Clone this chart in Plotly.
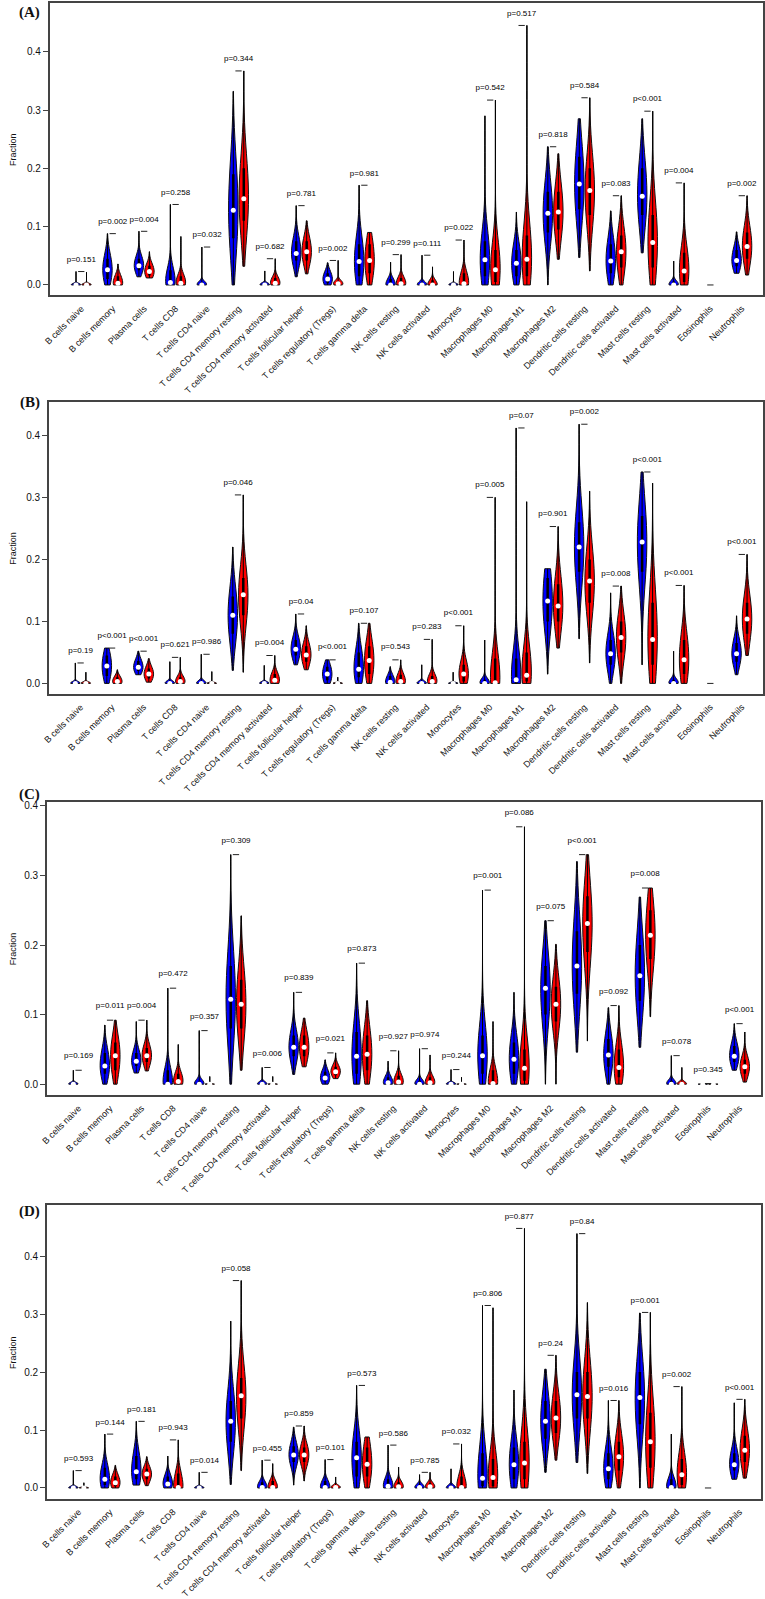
import numpy as np
import plotly.graph_objects as go

cells = ["B cells naive", "B cells memory", "Plasma cells", "T cells CD8", "T cells CD4 naive",
         "T cells CD4 memory resting", "T cells CD4 memory activated", "T cells follicular helper",
         "T cells regulatory (Tregs)", "T cells gamma delta", "NK cells resting", "NK cells activated",
         "Monocytes", "Macrophages M0", "Macrophages M1", "Macrophages M2", "Dendritic cells resting",
         "Dendritic cells activated", "Mast cells resting", "Mast cells activated", "Eosinophils",
         "Neutrophils"]

# each violin: (min, q1, median, q3, max)
A_blue = [(0, 0, 0, 0.002, 0.023), (0, 0.01, 0.026, 0.045, 0.088), (0.014, 0.025, 0.033, 0.045, 0.092),
          (0, 0, 0.004, 0.025, 0.138), (0, 0, 0, 0.004, 0.065), (0, 0.08, 0.128, 0.19, 0.332),
          (0, 0, 0, 0.003, 0.024), (0.014, 0.042, 0.054, 0.075, 0.136), (0, 0.003, 0.01, 0.02, 0.038),
          (0, 0.015, 0.04, 0.07, 0.171), (0, 0, 0, 0.01, 0.039), (0, 0, 0, 0.004, 0.051),
          (0, 0, 0, 0.002, 0.023), (0, 0.015, 0.043, 0.075, 0.29), (0, 0.015, 0.037, 0.06, 0.125),
          (0, 0.09, 0.123, 0.16, 0.237), (0.047, 0.13, 0.173, 0.22, 0.285), (0, 0.02, 0.041, 0.07, 0.127),
          (0.055, 0.12, 0.152, 0.2, 0.285), (0, 0, 0, 0.006, 0.041), (0, 0, 0, 0, 0),
          (0.02, 0.032, 0.042, 0.06, 0.091)]
A_red = [(0, 0, 0, 0.002, 0.022), (0, 0, 0.003, 0.015, 0.036), (0.012, 0.016, 0.023, 0.033, 0.057),
         (0, 0, 0.003, 0.015, 0.083), (0, 0, 0, 0, 0), (0.032, 0.11, 0.148, 0.2, 0.367),
         (0, 0, 0.003, 0.012, 0.045), (0.019, 0.042, 0.057, 0.075, 0.11), (0, 0, 0.002, 0.006, 0.042),
         (0, 0.02, 0.042, 0.07, 0.09), (0, 0, 0.002, 0.012, 0.052), (0, 0, 0, 0.008, 0.031),
         (0, 0, 0.002, 0.02, 0.077), (0, 0.005, 0.026, 0.06, 0.317), (0, 0.015, 0.044, 0.085, 0.445),
         (0.044, 0.095, 0.125, 0.16, 0.225), (0.024, 0.12, 0.162, 0.2, 0.321), (0, 0.03, 0.057, 0.085, 0.153),
         (0, 0.03, 0.073, 0.12, 0.298), (0, 0.005, 0.024, 0.055, 0.175), (0, 0, 0, 0, 0),
         (0.017, 0.045, 0.066, 0.09, 0.153)]
A_p = ["0.151", "0.002", "0.004", "0.258", "0.032", "0.344", "0.682", "0.781", "0.002", "0.981", "0.299",
       "0.111", "0.022", "0.542", "0.517", "0.818", "0.584", "0.083", "<0.001", "0.004", None, "0.002"]

B_blue = [(0, 0, 0, 0.002, 0.033), (0, 0.012, 0.028, 0.045, 0.057), (0.014, 0.02, 0.026, 0.036, 0.052),
          (0, 0, 0, 0.003, 0.035), (0, 0, 0, 0.003, 0.047), (0.021, 0.08, 0.11, 0.14, 0.22),
          (0, 0, 0, 0.002, 0.029), (0.03, 0.045, 0.055, 0.07, 0.112), (0, 0.005, 0.015, 0.027, 0.038),
          (0, 0.01, 0.023, 0.05, 0.097), (0, 0, 0.002, 0.012, 0.027), (0, 0, 0, 0.003, 0.03),
          (0, 0, 0, 0.001, 0.018), (0, 0, 0, 0.006, 0.07), (0, 0, 0.006, 0.04, 0.412),
          (0.015, 0.1, 0.133, 0.17, 0.185), (0.072, 0.18, 0.22, 0.26, 0.418), (0, 0.03, 0.048, 0.07, 0.146),
          (0.03, 0.18, 0.228, 0.27, 0.341), (0, 0, 0, 0.006, 0.052), (0, 0, 0, 0, 0),
          (0.014, 0.035, 0.048, 0.065, 0.109)]
B_red = [(0, 0, 0, 0.002, 0.018), (0, 0, 0.003, 0.01, 0.022), (0.002, 0.008, 0.015, 0.024, 0.04),
         (0, 0, 0.003, 0.01, 0.042), (0, 0, 0, 0.001, 0.019), (0.018, 0.11, 0.143, 0.17, 0.304),
         (0, 0, 0.005, 0.015, 0.045), (0.022, 0.035, 0.046, 0.06, 0.093), (0, 0, 0, 0.001, 0.01),
         (0, 0.015, 0.037, 0.06, 0.097), (0, 0, 0.003, 0.014, 0.038), (0, 0, 0.003, 0.012, 0.071),
         (0, 0.003, 0.015, 0.03, 0.093), (0, 0, 0.001, 0.04, 0.3), (0, 0.003, 0.013, 0.05, 0.293),
         (0.057, 0.1, 0.125, 0.16, 0.253), (0.033, 0.13, 0.165, 0.2, 0.31), (0, 0.05, 0.074, 0.1, 0.157),
         (0, 0.03, 0.071, 0.13, 0.323), (0, 0.015, 0.038, 0.07, 0.158), (0, 0, 0, 0, 0),
         (0.045, 0.08, 0.104, 0.13, 0.208)]
B_p = ["0.19", "<0.001", "<0.001", "0.621", "0.986", "0.046", "0.004", "0.04", "<0.001", "0.107", "0.543",
       "0.283", "<0.001", "0.005", "0.07", "0.901", "0.002", "0.008", "<0.001", "<0.001", None, "<0.001"]

C_blue = [(0, 0, 0, 0.002, 0.02), (0, 0.015, 0.026, 0.045, 0.085), (0.016, 0.026, 0.033, 0.045, 0.09),
          (0, 0, 0, 0.02, 0.138), (0, 0, 0, 0.004, 0.077), (0, 0.08, 0.122, 0.17, 0.33),
          (0, 0, 0, 0.003, 0.024), (0.014, 0.04, 0.053, 0.07, 0.132), (0, 0.004, 0.009, 0.018, 0.035),
          (0, 0.015, 0.04, 0.075, 0.174), (0, 0, 0.002, 0.01, 0.033), (0, 0, 0, 0.005, 0.051),
          (0, 0, 0, 0.002, 0.021), (0, 0.015, 0.041, 0.07, 0.279), (0, 0.015, 0.036, 0.06, 0.132),
          (0, 0.1, 0.138, 0.17, 0.235), (0.046, 0.13, 0.17, 0.22, 0.32), (0, 0.025, 0.042, 0.065, 0.11),
          (0.053, 0.12, 0.156, 0.2, 0.269), (0, 0, 0, 0.005, 0.041), (0, 0, 0, 0, 0.001),
          (0.02, 0.032, 0.04, 0.055, 0.087)]
C_red = [(0, 0, 0, 0, 0), (0, 0.02, 0.041, 0.06, 0.092), (0.019, 0.032, 0.041, 0.052, 0.092),
         (0, 0, 0.004, 0.015, 0.057), (0, 0, 0, 0, 0.011), (0.02, 0.08, 0.115, 0.15, 0.242),
         (0, 0, 0, 0, 0.011), (0.025, 0.04, 0.053, 0.07, 0.095), (0.008, 0.013, 0.018, 0.025, 0.045),
         (0, 0.02, 0.043, 0.07, 0.12), (0, 0, 0.003, 0.012, 0.048), (0, 0, 0.002, 0.01, 0.042),
         (0, 0, 0, 0, 0.01), (0, 0, 0.001, 0.02, 0.09), (0, 0.005, 0.023, 0.05, 0.37),
         (0, 0.09, 0.115, 0.14, 0.201), (0.062, 0.19, 0.231, 0.27, 0.33), (0, 0.01, 0.024, 0.05, 0.113),
         (0.097, 0.18, 0.214, 0.25, 0.282), (0, 0, 0, 0.003, 0.024), (0, 0, 0, 0, 0.001),
         (0.003, 0.015, 0.025, 0.035, 0.075)]
C_p = ["0.169", "0.011", "0.004", "0.472", "0.357", "0.309", "0.006", "0.839", "0.021", "0.873", "0.927",
       "0.974", "0.244", "0.001", "0.086", "0.075", "<0.001", "0.092", "0.008", "0.078", "0.345", "<0.001"]

D_blue = [(0, 0, 0, 0.002, 0.03), (0, 0.005, 0.015, 0.035, 0.093), (0.005, 0.015, 0.028, 0.055, 0.115),
          (0, 0.002, 0.007, 0.02, 0.055), (0, 0, 0, 0.002, 0.027), (0.006, 0.08, 0.115, 0.15, 0.288),
          (0, 0, 0.001, 0.01, 0.048), (0.005, 0.045, 0.057, 0.072, 0.105), (0, 0, 0.001, 0.012, 0.049),
          (0, 0.02, 0.052, 0.08, 0.177), (0, 0, 0.003, 0.015, 0.074), (0, 0, 0.001, 0.006, 0.023),
          (0, 0, 0, 0.004, 0.033), (0, 0.003, 0.017, 0.06, 0.315), (0, 0.015, 0.04, 0.07, 0.169),
          (0.027, 0.085, 0.115, 0.15, 0.205), (0.044, 0.12, 0.161, 0.2, 0.439), (0, 0.015, 0.033, 0.06, 0.151),
          (0, 0.11, 0.156, 0.2, 0.302), (0, 0, 0.001, 0.015, 0.093), (0, 0, 0, 0, 0),
          (0.015, 0.03, 0.04, 0.06, 0.147)]
D_red = [(0, 0, 0, 0.001, 0.009), (0, 0.003, 0.009, 0.02, 0.039), (0.004, 0.015, 0.024, 0.033, 0.054),
         (0, 0, 0.001, 0.025, 0.083), (0, 0, 0, 0, 0), (0.03, 0.12, 0.159, 0.19, 0.358),
         (0, 0, 0.001, 0.012, 0.042), (0.012, 0.045, 0.057, 0.07, 0.107), (0, 0, 0.001, 0.004, 0.019),
         (0, 0.02, 0.041, 0.07, 0.088), (0, 0, 0.002, 0.01, 0.036), (0, 0, 0.002, 0.008, 0.027),
         (0, 0, 0.001, 0.02, 0.076), (0, 0.003, 0.018, 0.05, 0.311), (0, 0.015, 0.043, 0.08, 0.448),
         (0.048, 0.095, 0.121, 0.15, 0.229), (0.025, 0.12, 0.158, 0.2, 0.32), (0, 0.03, 0.054, 0.08, 0.151),
         (0, 0.035, 0.08, 0.13, 0.303), (0, 0.005, 0.023, 0.05, 0.175), (0, 0, 0, 0, 0),
         (0.017, 0.045, 0.065, 0.09, 0.153)]
D_p = ["0.593", "0.144", "0.181", "0.943", "0.014", "0.058", "0.455", "0.859", "0.101", "0.573", "0.586",
       "0.785", "0.032", "0.806", "0.877", "0.24", "0.84", "0.016", "0.001", "0.002", None, "<0.001"]

W, H = 765, 1599
FONT = "Arial, Liberation Sans, sans-serif"

# panel boxes in pixels: left, right, top, bottom, y range, label y
panels = [
    ("(A)", A_blue, A_red, A_p, (44, 764, 1, 295), (-0.0175, 0.4835), 11),
    ("(B)", B_blue, B_red, B_p, (43.3, 764, 402.3, 696), (-0.0165, 0.4542), 403),
    ("(C)", C_blue, C_red, C_p, (41.3, 761.7, 805, 1099.7), (-0.0153, 0.4057), 797),
    ("(D)", D_blue, D_red, D_p, (41.3, 761.7, 1211, 1506), (-0.0183, 0.4877), 1217),
]


def bandwidth(s):
    return 0.45 * (s[3] - s[1]) + 0.04 * (s[4] - s[0]) + 1e-4


fig = go.Figure()
annotations = []

for pi, (tag, blue, red, pvals, box, yr, label_y) in enumerate(panels):
    sfx = "" if pi == 0 else str(pi + 1)
    xa, ya = "x" + sfx, "y" + sfx

    wx, wy, bx, by, mx_, my_ = [], [], [], [], [], []
    for k in range(len(cells)):
        for grp, col, off in ((blue, "#0000ff", 0), (red, "#ff0000", 1)):
            s = grp[k]
            pos = 3 * k + off
            if s[4] <= s[0]:
                continue
            fig.add_trace(go.Violin(
                x=[pos] * 3, y=[s[1], s[2], s[3]],
                xaxis=xa, yaxis=ya,
                width=0.9, scalemode="width",
                spanmode="manual", span=[s[0], s[4]],
                bandwidth=bandwidth(s),
                fillcolor=col, line=dict(color="#111111", width=1),
                points=False, box_visible=False, meanline_visible=False,
                opacity=1, showlegend=False, hoverinfo="skip"))
            wx += [pos, pos, None]
            wy += [s[0], s[4], None]
            bx += [pos, pos, None]
            by += [s[1], s[3], None]
            mx_.append(pos)
            my_.append(s[2])

    fig.add_trace(go.Scatter(x=wx, y=wy, mode="lines", xaxis=xa, yaxis=ya,
                             line=dict(color="black", width=1), showlegend=False, hoverinfo="skip"))
    fig.add_trace(go.Scatter(x=bx, y=by, mode="lines", xaxis=xa, yaxis=ya,
                             line=dict(color="black", width=2.5), showlegend=False, hoverinfo="skip"))
    fig.add_trace(go.Scatter(x=mx_, y=my_, mode="markers", xaxis=xa, yaxis=ya,
                             marker=dict(color="white", size=5, line=dict(width=0)),
                             showlegend=False, hoverinfo="skip"))

    # brackets and p-values
    lx, ly, tx, ty, tt = [], [], [], [], []
    for k in range(len(cells)):
        top = max(blue[k][4], red[k][4])
        lx += [3 * k + 0.2, 3 * k + 0.8, None]
        ly += [top, top, None]
        if pvals[k] is not None:
            tx.append(3 * k + 0.5)
            ty.append(top + 0.02)
            tt.append("p" + pvals[k] if pvals[k].startswith("<") else "p=" + pvals[k])
    fig.add_trace(go.Scatter(x=lx, y=ly, mode="lines", xaxis=xa, yaxis=ya,
                             line=dict(color="#222222", width=1), showlegend=False, hoverinfo="skip"))
    fig.add_trace(go.Scatter(x=tx, y=ty, mode="text", text=tt, xaxis=xa, yaxis=ya,
                             textposition="middle center",
                             textfont=dict(family=FONT, size=8, color="black"),
                             showlegend=False, hoverinfo="skip"))

    l, r, t, b = box
    fig.update_layout(**{
        "xaxis" + sfx: dict(domain=[l / W, r / W], anchor=ya, range=[-2.52, 65.52],
                            tickvals=[3 * k + 0.5 for k in range(len(cells))], ticktext=cells,
                            tickangle=-45, tickfont=dict(family=FONT, size=9, color="#111111"),
                            ticks="outside", ticklen=3, tickcolor="rgba(0,0,0,0)",
                            showline=True, mirror=True, linecolor="#444444", linewidth=1.5,
                            showgrid=False, zeroline=False),
        "yaxis" + sfx: dict(domain=[1 - b / H, 1 - t / H], anchor=xa, range=list(yr),
                            tickvals=[0, 0.1, 0.2, 0.3, 0.4],
                            ticktext=["0.0", "0.1", "0.2", "0.3", "0.4"],
                            tickfont=dict(family=FONT, size=10, color="#111111"),
                            ticks="outside", ticklen=5, tickcolor="#444444",
                            showline=True, mirror=True, linecolor="#444444", linewidth=1.5,
                            showgrid=False, zeroline=False),
    })

    annotations.append(dict(text="<b>" + tag + "</b>", x=24 / W, y=1 - label_y / H,
                            xref="paper", yref="paper", showarrow=False,
                            xanchor="center", yanchor="middle",
                            font=dict(family="Liberation Serif, Times New Roman, serif", size=15,
                                      color="#111111")))
    annotations.append(dict(text="Fraction", x=7 / W, y=1 - (t + b) / 2 / H, textangle=-90,
                            xref="paper", yref="paper", showarrow=False,
                            xanchor="center", yanchor="middle",
                            font=dict(family=FONT, size=9, color="#111111")))

fig.update_layout(width=W, height=H, margin=dict(l=0, r=0, t=0, b=0),
                  paper_bgcolor="white", plot_bgcolor="white",
                  violinmode="overlay", violingap=0, violingroupgap=0,
                  annotations=annotations)

fig.write_html("out.html", config={"displayModeBar": False},
               post_script="document.body.style.margin='0px';")
